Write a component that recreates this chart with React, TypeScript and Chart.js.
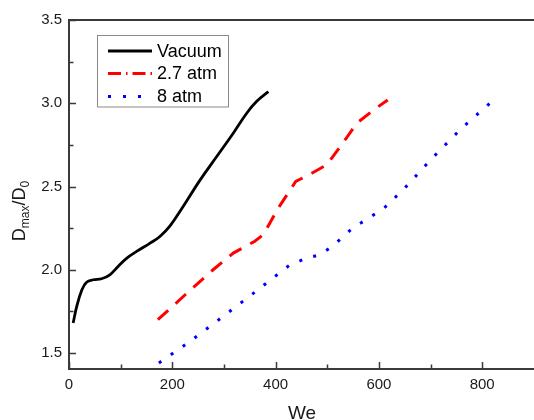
import { useEffect, useRef } from "react";
import { Chart, registerables } from "chart.js";

Chart.register(...registerables);

// ---- data ----
const vacuumWe = [8, 15, 25, 34, 47, 63, 79, 95, 112, 131, 157, 176, 196, 221, 254, 286, 318, 344, 363, 386];
const vacuumD = [1.68, 1.78, 1.88, 1.925, 1.94, 1.946, 1.97, 2.02, 2.07, 2.11, 2.16, 2.2, 2.265, 2.38, 2.54, 2.68, 2.82, 2.94, 3.01, 3.07];

const atm27We = [172, 225, 279, 318, 359, 376, 405, 439, 470, 499, 530, 557, 590, 617];
const atm27D = [1.7, 1.85, 2.0, 2.1, 2.17, 2.21, 2.37, 2.53, 2.58, 2.63, 2.76, 2.88, 2.96, 3.02];

const atm8We = [174, 230, 290, 360, 428, 457, 485, 510, 549, 575, 610, 650, 700, 760, 826];
const atm8D = [1.44, 1.56, 1.7, 1.866, 2.03, 2.066, 2.09, 2.14, 2.25, 2.3, 2.37, 2.49, 2.66, 2.85, 3.03];

const seriesLabels = ["Vacuum", "2.7 atm", "8 atm"];

const xMajorTicks = [0, 200, 400, 600, 800];
const xMinorTicks = [100, 300, 500, 700];
const yMajorTicks = [1.5, 2.0, 2.5, 3.0, 3.5];
const yMinorTicks = [1.75, 2.25, 2.75, 3.25];

const xTitle = "We";

// ---- layout / style ----
const CANVAS_W = 545;
const CANVAS_H = 420;
const PLOT_RIGHT = 537;
const FONT = '"Liberation Sans", Arial, Helvetica, sans-serif';
const SPINE = "#3a3a3a";

const toPoints = (xs: number[], ys: number[]) => xs.map((x, i) => ({ x, y: ys[i] }));

const legendDashes: number[][] = [[], [13, 5, 1.5, 5], [3, 12]];

const axesPlugin = {
  id: "originAxes",
  afterDatasetsDraw(chart: any) {
    const { ctx, chartArea: a, scales } = chart;
    const xs = scales.x;
    const ys = scales.y;
    ctx.save();
    ctx.strokeStyle = SPINE;
    ctx.lineWidth = 2;
    ctx.setLineDash([]);
    ctx.strokeRect(a.left, a.top, a.right - a.left, a.bottom - a.top);

    ctx.lineWidth = 1.5;
    ctx.beginPath();
    for (const v of xMajorTicks) {
      const px = Math.round(xs.getPixelForValue(v)) + 0.5;
      ctx.moveTo(px, a.bottom);
      ctx.lineTo(px, a.bottom - 7);
    }
    for (const v of xMinorTicks) {
      const px = Math.round(xs.getPixelForValue(v)) + 0.5;
      ctx.moveTo(px, a.bottom);
      ctx.lineTo(px, a.bottom - 4.5);
    }
    for (const v of yMajorTicks) {
      const py = Math.round(ys.getPixelForValue(v)) + 0.5;
      ctx.moveTo(a.left, py);
      ctx.lineTo(a.left + 7, py);
    }
    for (const v of yMinorTicks) {
      const py = Math.round(ys.getPixelForValue(v)) + 0.5;
      ctx.moveTo(a.left, py);
      ctx.lineTo(a.left + 4.5, py);
    }
    ctx.stroke();

    // tick labels
    ctx.fillStyle = "#1a1a1a";
    ctx.font = `15px ${FONT}`;
    ctx.textAlign = "center";
    ctx.textBaseline = "middle";
    for (const v of xMajorTicks) {
      ctx.fillText(String(v), xs.getPixelForValue(v), a.bottom + 16);
    }
    ctx.textAlign = "right";
    for (const v of yMajorTicks) {
      ctx.fillText(v.toFixed(1), a.left - 7, ys.getPixelForValue(v));
    }

    // x title
    ctx.font = `19px ${FONT}`;
    ctx.textAlign = "center";
    ctx.textBaseline = "alphabetic";
    ctx.fillText(xTitle, 302, a.bottom + 50);

    // y title: D_max / D_0
    ctx.save();
    ctx.translate(25, 211);
    ctx.rotate(-Math.PI / 2);
    const big = `18px ${FONT}`;
    const small = `12px ${FONT}`;
    const parts: [string, string, number][] = [
      ["D", big, 0],
      ["max", small, 4],
      ["/D", big, 0],
      ["0", small, 4],
    ];
    let total = 0;
    for (const [t, f] of parts) {
      ctx.font = f;
      total += ctx.measureText(t).width;
    }
    let cx = -total / 2;
    ctx.textAlign = "left";
    for (const [t, f, dy] of parts) {
      ctx.font = f;
      ctx.fillText(t, cx, dy);
      cx += ctx.measureText(t).width;
    }
    ctx.restore();

    // legend
    const lx = 97.5, ly = 35.5, lw = 131, lh = 71.5;
    ctx.fillStyle = "#ffffff";
    ctx.fillRect(lx, ly, lw, lh);
    ctx.strokeStyle = "#8a8a8a";
    ctx.lineWidth = 1;
    ctx.strokeRect(lx, ly, lw, lh);
    const rows = [51, 73.5, 96.5];
    chart.data.datasets.forEach((ds: any, i: number) => {
      const y = rows[i];
      ctx.strokeStyle = ds.borderColor;
      ctx.lineWidth = ds.borderWidth;
      ctx.lineCap = "butt";
      ctx.setLineDash(legendDashes[i]);
      ctx.beginPath();
      ctx.moveTo(108, y);
      ctx.lineTo(152, y);
      ctx.stroke();
      ctx.setLineDash([]);
      ctx.fillStyle = "#000";
      ctx.font = `18px ${FONT}`;
      ctx.textAlign = "left";
      ctx.textBaseline = "middle";
      ctx.fillText(ds.label, 157, y + 1);
    });
    ctx.restore();
  },
};

export default function App() {
  const ref = useRef<HTMLCanvasElement | null>(null);

  useEffect(() => {
    if (!ref.current) return;
    const chart = new Chart(ref.current, {
      type: "line",
      data: {
        datasets: [
          {
            label: seriesLabels[0],
            data: toPoints(vacuumWe, vacuumD),
            borderColor: "#000000",
            borderWidth: 2.8,
            tension: 0.4,
            pointRadius: 0,
            fill: false,
          },
          {
            label: seriesLabels[1],
            data: toPoints(atm27We, atm27D),
            borderColor: "#ff0000",
            borderWidth: 3,
            borderDash: [14, 10],
            tension: 0,
            pointRadius: 0,
            fill: false,
          },
          {
            label: seriesLabels[2],
            data: toPoints(atm8We, atm8D),
            borderColor: "#0000ff",
            borderWidth: 3,
            borderDash: [3, 11.5],
            tension: 0,
            pointRadius: 0,
            fill: false,
          },
        ],
      },
      options: {
        responsive: false,
        animation: false,
        devicePixelRatio: 1,
        layout: { padding: { left: 69, top: 20, right: CANVAS_W - PLOT_RIGHT, bottom: CANVAS_H - 369 } },
        scales: {
          x: { type: "linear", min: 0, max: ((PLOT_RIGHT - 69) / 103.3) * 200, display: false },
          y: { type: "linear", min: 1.404, max: 3.5, display: false },
        },
        plugins: {
          legend: { display: false },
          tooltip: { enabled: false },
        },
      },
      plugins: [axesPlugin],
    } as any);
    return () => chart.destroy();
  }, []);

  return (
    <div
      style={{
        position: "fixed",
        left: 0,
        top: 0,
        width: 534,
        height: 420,
        overflow: "hidden",
        background: "#ffffff",
      }}
    >
      <canvas ref={ref} width={CANVAS_W} height={CANVAS_H} style={{ display: "block" }} />
    </div>
  );
}
